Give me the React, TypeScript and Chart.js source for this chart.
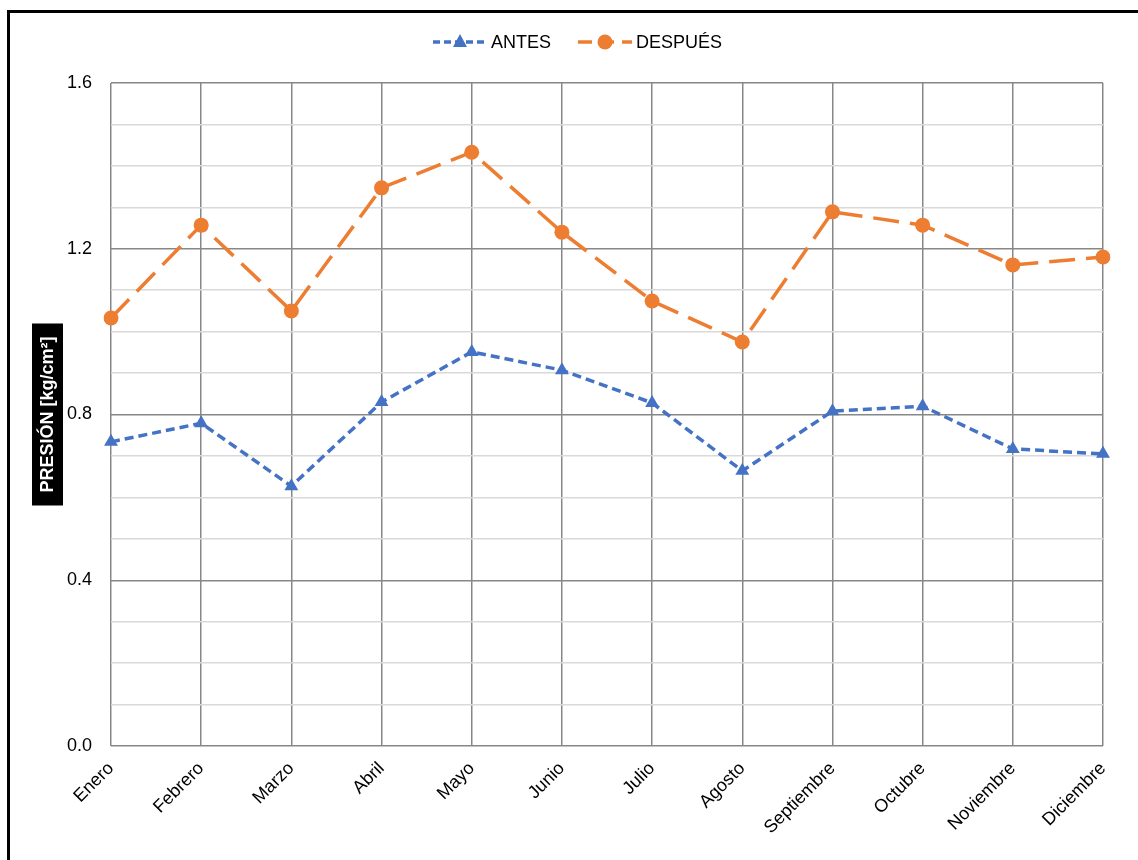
import React, { useEffect, useRef } from "react";
import { Chart, registerables } from "chart.js";

Chart.register(...registerables);

const MONTHS = ["Enero", "Febrero", "Marzo", "Abril", "Mayo", "Junio", "Julio", "Agosto", "Septiembre", "Octubre", "Noviembre", "Diciembre"];
const ANTES = [0.734, 0.779, 0.627, 0.83, 0.951, 0.907, 0.828, 0.664, 0.808, 0.82, 0.717, 0.705];
const DESPUES = [1.033, 1.257, 1.05, 1.347, 1.433, 1.24, 1.074, 0.975, 1.289, 1.257, 1.161, 1.18];
const Y_TITLE = "PRESIÓN [kg/cm²]";
const FONT = "'Liberation Sans', Arial, sans-serif";

const BLUE = "#4472C4";
const ORANGE = "#ED7D31";

const decorPlugin = {
  id: "decor",
  afterDraw(chart: any) {
    const ctx = chart.ctx as CanvasRenderingContext2D;
    const area = chart.chartArea;
    // Y-axis title with black background
    ctx.save();
    ctx.font = `bold 18px ${FONT}`;
    const cx = 47.5;
    const cy = (area.top + area.bottom) / 2;
    ctx.fillStyle = "#000";
    ctx.fillRect(cx - 15.5, cy - 91, 31, 182);
    ctx.translate(cx, cy);
    ctx.rotate(-Math.PI / 2);
    ctx.fillStyle = "#fff";
    ctx.textAlign = "center";
    ctx.textBaseline = "middle";
    ctx.fillText(Y_TITLE, 0, 1);
    ctx.restore();

    // Custom legend
    const items = [
      { label: "ANTES", color: BLUE, dash: [7, 4], marker: "triangle", x0: 433 },
      { label: "DESPUÉS", color: ORANGE, dash: [14, 8], marker: "circle", x0: 578 },
    ];
    const ly = 42;
    ctx.save();
    for (const it of items) {
      ctx.strokeStyle = it.color;
      ctx.lineWidth = 3.5;
      ctx.setLineDash(it.dash);
      ctx.beginPath();
      ctx.moveTo(it.x0, ly);
      ctx.lineTo(it.x0 + 54, ly);
      ctx.stroke();
      ctx.setLineDash([]);
      ctx.fillStyle = it.color;
      const mx = it.x0 + 27;
      ctx.beginPath();
      if (it.marker === "circle") {
        ctx.arc(mx, ly, 7.5, 0, Math.PI * 2);
      } else {
        ctx.moveTo(mx, ly - 8);
        ctx.lineTo(mx + 7, ly + 5);
        ctx.lineTo(mx - 7, ly + 5);
        ctx.closePath();
      }
      ctx.fill();
      ctx.fillStyle = "#000";
      ctx.font = `18px ${FONT}`;
      ctx.textAlign = "left";
      ctx.textBaseline = "middle";
      ctx.fillText(it.label, it.x0 + 58, ly + 1);
    }
    ctx.restore();
  },
};

export default function App() {
  const ref = useRef<HTMLCanvasElement | null>(null);
  useEffect(() => {
    if (!ref.current) return;
    const chart = new Chart(ref.current, {
      type: "line",
      data: {
        labels: MONTHS,
        datasets: [
          {
            label: "ANTES",
            data: ANTES,
            borderColor: BLUE,
            backgroundColor: BLUE,
            borderWidth: 3.5,
            borderDash: [9, 5],
            pointStyle: "triangle",
            pointRadius: 8,
            pointBorderWidth: 0,
            pointBackgroundColor: BLUE,
            tension: 0,
          },
          {
            label: "DESPUÉS",
            data: DESPUES,
            borderColor: ORANGE,
            backgroundColor: ORANGE,
            borderWidth: 3.5,
            borderDash: [26, 11],
            pointStyle: "circle",
            pointRadius: 7.5,
            pointBorderWidth: 0,
            pointBackgroundColor: ORANGE,
            tension: 0,
          },
        ],
      },
      options: {
        responsive: false,
        animation: false,
        layout: { padding: { top: 83, right: 35, left: 0, bottom: 0 } },
        plugins: {
          legend: { display: false },
          tooltip: { enabled: false },
          title: { display: false },
        },
        scales: {
          x: {
            offset: false,
            grid: { color: "#878787", lineWidth: 1.5, drawTicks: false },
            border: { display: false },
            ticks: {
              color: "#000",
              font: { family: FONT, size: 18 },
              minRotation: 45,
              maxRotation: 45,
              padding: 12,
              autoSkip: false,
            },
            afterFit: (s: any) => {
              s.height = 114;
            },
          },
          y: {
            min: 0,
            max: 1.6,
            border: { display: false },
            grid: {
              drawTicks: false,
              color: (c: any) => (Math.round(c.tick.value * 10) % 4 === 0 ? "#878787" : "#d9d9d9"),
              lineWidth: 1.5,
            },
            ticks: {
              stepSize: 0.1,
              color: "#000",
              font: { family: FONT, size: 18 },
              padding: 19,
              callback: (v: any) => (Math.round(Number(v) * 10) % 4 === 0 ? Number(v).toFixed(1) : ""),
            },
            afterFit: (s: any) => {
              s.width = 111;
            },
          },
        },
      },
      plugins: [decorPlugin],
    });
    return () => chart.destroy();
  }, []);
  return (
    <div style={{ position: "absolute", left: 0, top: 0, width: 1138, height: 860, overflow: "hidden", background: "#fff" }}>
      <canvas ref={ref} width={1138} height={860} style={{ position: "absolute", left: 0, top: 0 }} />
      <div
        style={{
          position: "absolute",
          left: 7,
          top: 10,
          width: 1200,
          height: 900,
          border: "3px solid #000",
          boxSizing: "border-box",
          pointerEvents: "none",
        }}
      />
    </div>
  );
}
